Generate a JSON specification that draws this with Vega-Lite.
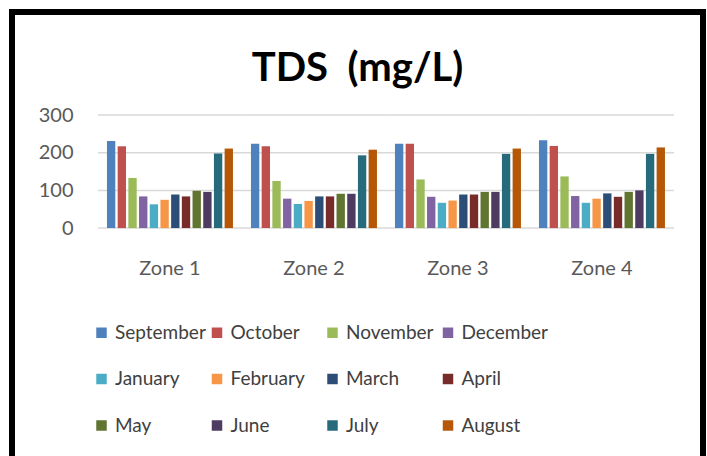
{
  "$schema": "https://vega.github.io/schema/vega-lite/v6.json",
  "autosize": {"type": "none"},
  "padding": {"left": 12, "top": 12, "right": 4, "bottom": 0},
  "width": 691,
  "height": 450,
  "background": "white",
  "config": {
    "font": "Lato",
    "view": {"stroke": "black", "strokeWidth": 6, "fill": "white"}
  },
  "title": {
    "text": "TDS\u00a0\u00a0(mg/L)",
    "fontSize": 40,
    "fontWeight": "bold",
    "color": "#000000",
    "font": "Lato",
    "anchor": "middle",
    "offset": -77
  },
  "datasets": {
    "tds": [
      {"zone": "Zone 1", "month": "September", "tds": 231},
      {"zone": "Zone 1", "month": "October", "tds": 217},
      {"zone": "Zone 1", "month": "November", "tds": 133},
      {"zone": "Zone 1", "month": "December", "tds": 84},
      {"zone": "Zone 1", "month": "January", "tds": 63},
      {"zone": "Zone 1", "month": "February", "tds": 75},
      {"zone": "Zone 1", "month": "March", "tds": 89},
      {"zone": "Zone 1", "month": "April", "tds": 84},
      {"zone": "Zone 1", "month": "May", "tds": 99},
      {"zone": "Zone 1", "month": "June", "tds": 96},
      {"zone": "Zone 1", "month": "July", "tds": 198},
      {"zone": "Zone 1", "month": "August", "tds": 211},
      {"zone": "Zone 2", "month": "September", "tds": 224},
      {"zone": "Zone 2", "month": "October", "tds": 217},
      {"zone": "Zone 2", "month": "November", "tds": 125},
      {"zone": "Zone 2", "month": "December", "tds": 78},
      {"zone": "Zone 2", "month": "January", "tds": 64},
      {"zone": "Zone 2", "month": "February", "tds": 72},
      {"zone": "Zone 2", "month": "March", "tds": 84},
      {"zone": "Zone 2", "month": "April", "tds": 84},
      {"zone": "Zone 2", "month": "May", "tds": 91},
      {"zone": "Zone 2", "month": "June", "tds": 91},
      {"zone": "Zone 2", "month": "July", "tds": 193},
      {"zone": "Zone 2", "month": "August", "tds": 208},
      {"zone": "Zone 3", "month": "September", "tds": 224},
      {"zone": "Zone 3", "month": "October", "tds": 224},
      {"zone": "Zone 3", "month": "November", "tds": 129},
      {"zone": "Zone 3", "month": "December", "tds": 83},
      {"zone": "Zone 3", "month": "January", "tds": 67},
      {"zone": "Zone 3", "month": "February", "tds": 73},
      {"zone": "Zone 3", "month": "March", "tds": 89},
      {"zone": "Zone 3", "month": "April", "tds": 89},
      {"zone": "Zone 3", "month": "May", "tds": 96},
      {"zone": "Zone 3", "month": "June", "tds": 96},
      {"zone": "Zone 3", "month": "July", "tds": 197},
      {"zone": "Zone 3", "month": "August", "tds": 211},
      {"zone": "Zone 4", "month": "September", "tds": 233},
      {"zone": "Zone 4", "month": "October", "tds": 218},
      {"zone": "Zone 4", "month": "November", "tds": 137},
      {"zone": "Zone 4", "month": "December", "tds": 85},
      {"zone": "Zone 4", "month": "January", "tds": 67},
      {"zone": "Zone 4", "month": "February", "tds": 78},
      {"zone": "Zone 4", "month": "March", "tds": 92},
      {"zone": "Zone 4", "month": "April", "tds": 83},
      {"zone": "Zone 4", "month": "May", "tds": 96},
      {"zone": "Zone 4", "month": "June", "tds": 100},
      {"zone": "Zone 4", "month": "July", "tds": 197},
      {"zone": "Zone 4", "month": "August", "tds": 214}
    ],
    "grid": [
      {"zone": "Zone 1", "v": 0}, {"zone": "Zone 1", "v": 100}, {"zone": "Zone 1", "v": 200}, {"zone": "Zone 1", "v": 300},
      {"zone": "Zone 2", "v": 0}, {"zone": "Zone 2", "v": 100}, {"zone": "Zone 2", "v": 200}, {"zone": "Zone 2", "v": 300},
      {"zone": "Zone 3", "v": 0}, {"zone": "Zone 3", "v": 100}, {"zone": "Zone 3", "v": 200}, {"zone": "Zone 3", "v": 300},
      {"zone": "Zone 4", "v": 0}, {"zone": "Zone 4", "v": 100}, {"zone": "Zone 4", "v": 200}, {"zone": "Zone 4", "v": 300}
    ]
  },
  "layer": [
    {
      "data": {"name": "grid"},
      "mark": {"type": "tick", "color": "#d9d9d9", "thickness": 1.5, "size": 144, "opacity": 1},
      "encoding": {
        "x": {"field": "zone", "type": "nominal"},
        "y": {"field": "v", "type": "quantitative"}
      }
    },
    {
      "data": {"name": "tds"},
      "mark": {"type": "bar"},
      "encoding": {
        "x": {
          "field": "zone",
          "type": "nominal",
          "sort": ["Zone 1", "Zone 2", "Zone 3", "Zone 4"],
          "scale": {"paddingInner": 0.125, "paddingOuter": 0.4618, "align": 0.714},
          "axis": {
            "title": null,
            "orient": "bottom",
            "offset": -234,
            "bandPosition": 0.5,
            "domain": false,
            "ticks": false,
            "tickSize": 0,
            "labelPadding": 40,
            "labelAngle": 0,
            "labelAlign": "center",
            "labelFont": "Lato",
            "labelFontSize": 20,
            "labelColor": "#595959"
          }
        },
        "xOffset": {
          "field": "month",
          "type": "nominal",
          "sort": ["September", "October", "November", "December", "January", "February", "March", "April", "May", "June", "July", "August"],
          "scale": {"paddingInner": 0.22}
        },
        "y": {
          "field": "tds",
          "type": "quantitative",
          "scale": {"domain": [-621, 573.5], "nice": false, "zero": false},
          "axis": {
            "title": null,
            "orient": "left",
            "offset": -65,
            "values": [0, 100, 200, 300],
            "domain": false,
            "ticks": false,
            "tickSize": 0,
            "grid": false,
            "labelPadding": 4,
            "labelFont": "Lato",
            "labelFontSize": 20,
            "labelColor": "#595959"
          }
        },
        "y2": {"datum": 0},
        "color": {
          "field": "month",
          "type": "nominal",
          "sort": ["September", "October", "November", "December", "January", "February", "March", "April", "May", "June", "July", "August"],
          "scale": {
            "domain": ["September", "October", "November", "December", "January", "February", "March", "April", "May", "June", "July", "August"],
            "range": ["#4F81BD", "#C0504D", "#9BBB59", "#8064A2", "#4BACC6", "#F79646", "#2C4D75", "#772C2A", "#5F7530", "#4D3B62", "#276A7C", "#B65708"]
          },
          "legend": {
            "title": null,
            "orient": "none",
            "legendX": 80,
            "legendY": 311,
            "direction": "horizontal",
            "columns": 4,
            "gridAlign": "all",
            "symbolType": "square",
            "symbolSize": 110,
            "symbolStrokeWidth": 0,
            "labelFont": "Lato",
            "labelFontSize": 19,
            "labelColor": "#404040",
            "labelOffset": 4,
            "columnPadding": 1.5,
            "rowPadding": 26.5
          }
        }
      }
    }
  ]
}
